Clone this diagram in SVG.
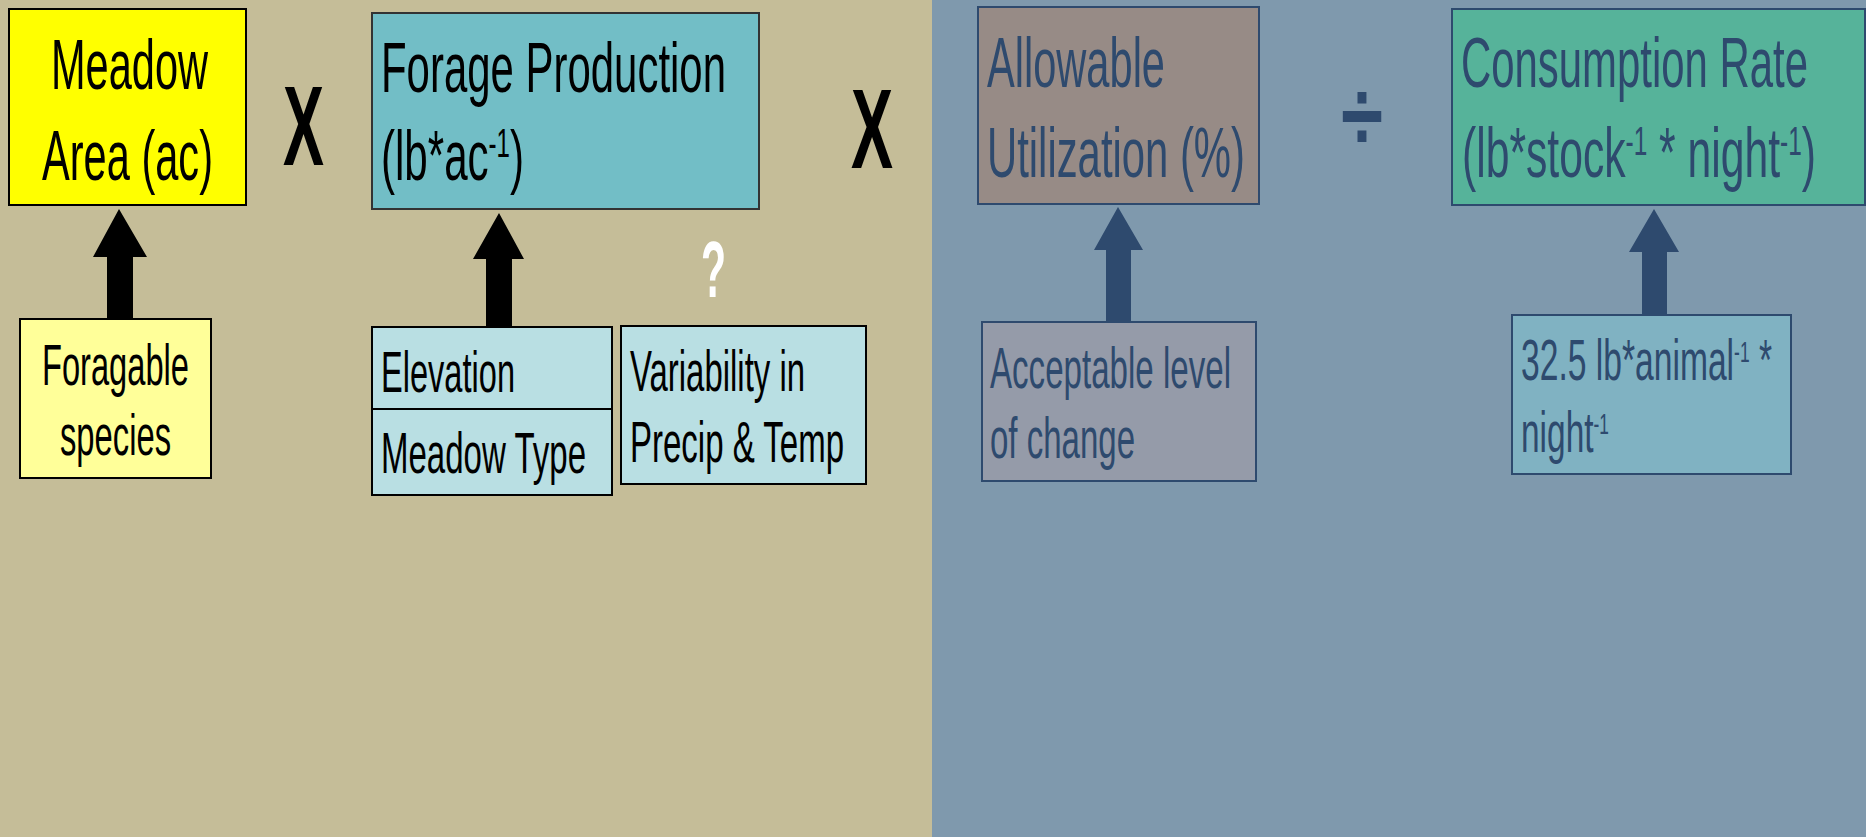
<svg xmlns="http://www.w3.org/2000/svg" width="1866" height="837" viewBox="0 0 1866 837">
<style>
.t{font-family:"Liberation Sans",Arial,sans-serif;}
.big{font-size:70px;}
.mid{font-size:58px;}
.blk{fill:#000;}
.blu{fill:#2E4A6E;}
.bl{stroke:#000;stroke-width:2;}
.bb{stroke:#2E4A6E;stroke-width:2;}
.op{font-size:114px;font-weight:bold;}
</style>
<rect x="0" y="0" width="932" height="837" fill="#C5BD98"/>
<rect x="932" y="0" width="934" height="837" fill="#7F99AD"/>

<g id="connectors">
<polygon points="119,209 147,257 133,257 133,319 107,319 107,257 93,257" fill="#000"/>
<polygon points="499,213 524,259 512,259 512,328 486,328 486,259 473,259" fill="#000"/>
<polygon points="1118,207 1143,250 1131,250 1131,322 1106,322 1106,250 1094,250" fill="#2E4A6E"/>
<polygon points="1654,209 1679,252 1667,252 1667,315 1642,315 1642,252 1629,252" fill="#2E4A6E"/>
</g>

<g id="meadow-area">
<rect x="9" y="9" width="237" height="196" fill="#FFFF00" class="bl"/>
<text class="t big blk" x="51" y="89" textLength="157" lengthAdjust="spacingAndGlyphs">Meadow</text>
<text class="t big blk" x="42" y="180" textLength="171" lengthAdjust="spacingAndGlyphs">Area (ac)</text>
</g>

<g id="op-x1"><text class="t blk op" x="283" y="165" textLength="41" lengthAdjust="spacingAndGlyphs">X</text></g>

<g id="forage-production">
<rect x="372" y="13" width="387" height="196" fill="#72BEC6" stroke="#333" stroke-width="2"/>
<text class="t big blk" x="381" y="92" textLength="345" lengthAdjust="spacingAndGlyphs">Forage Production</text>
<text class="t big blk" x="381" y="180" textLength="143" lengthAdjust="spacingAndGlyphs">(lb*ac<tspan dy="-23" style="font-size:40px">-1</tspan><tspan dy="23">)</tspan></text>
</g>

<g id="op-x2"><text class="t blk op" x="851" y="168" textLength="42" lengthAdjust="spacingAndGlyphs">X</text></g>

<g id="question"><text class="t" style="font-size:80px;font-weight:bold;fill:#fff" x="701" y="297" textLength="25" lengthAdjust="spacingAndGlyphs">?</text></g>

<g id="allowable-utilization">
<rect x="978" y="7" width="281" height="197" fill="#978B86" class="bb"/>
<text class="t big blu" x="987" y="87" textLength="178" lengthAdjust="spacingAndGlyphs">Allowable</text>
<text class="t big blu" x="987" y="177" textLength="258" lengthAdjust="spacingAndGlyphs">Utilization (%)</text>
</g>

<g id="op-div"><text class="t blu" style="font-size:100px;font-weight:bold" x="1341" y="150" textLength="42" lengthAdjust="spacingAndGlyphs">÷</text></g>

<g id="consumption-rate">
<rect x="1452" y="9" width="413" height="196" fill="#56B39A" class="bb"/>
<text class="t big blu" x="1461" y="87" textLength="347" lengthAdjust="spacingAndGlyphs">Consumption Rate</text>
<text class="t big blu" x="1462" y="177" textLength="354" lengthAdjust="spacingAndGlyphs">(lb*stock<tspan dy="-22" style="font-size:40px">-1</tspan><tspan dy="22"> * night</tspan><tspan dy="-22" style="font-size:40px">-1</tspan><tspan dy="22">)</tspan></text>
</g>

<g id="foragable-species">
<rect x="20" y="319" width="191" height="159" fill="#FFFF99" class="bl"/>
<text class="t mid blk" x="42" y="385" textLength="147" lengthAdjust="spacingAndGlyphs">Foragable</text>
<text class="t mid blk" x="60" y="455" textLength="111" lengthAdjust="spacingAndGlyphs">species</text>
</g>

<g id="elevation">
<rect x="372" y="327" width="240" height="82" fill="#B9DFE3" class="bl"/>
<text class="t mid blk" x="381" y="392" textLength="134" lengthAdjust="spacingAndGlyphs">Elevation</text>
</g>

<g id="meadow-type">
<rect x="372" y="409" width="240" height="86" fill="#B9DFE3" class="bl"/>
<text class="t mid blk" x="381" y="473" textLength="205" lengthAdjust="spacingAndGlyphs">Meadow Type</text>
</g>

<g id="variability">
<rect x="621" y="326" width="245" height="158" fill="#B9DFE3" class="bl"/>
<text class="t mid blk" x="630" y="391" textLength="175" lengthAdjust="spacingAndGlyphs">Variability in</text>
<text class="t mid blk" x="630" y="462" textLength="214" lengthAdjust="spacingAndGlyphs">Precip &amp; Temp</text>
</g>

<g id="acceptable-level">
<rect x="982" y="322" width="274" height="159" fill="#959BA9" class="bb"/>
<text class="t mid blu" x="990" y="388" textLength="241" lengthAdjust="spacingAndGlyphs">Acceptable level</text>
<text class="t mid blu" x="990" y="458" textLength="145" lengthAdjust="spacingAndGlyphs">of change</text>
</g>

<g id="consumption-value">
<rect x="1512" y="315" width="279" height="159" fill="#80B2C2" class="bb"/>
<text class="t mid blu" x="1521" y="380" textLength="251" lengthAdjust="spacingAndGlyphs">32.5 lb*animal<tspan dy="-18" style="font-size:30px">-1</tspan><tspan dy="18"> *</tspan></text>
<text class="t mid blu" x="1521" y="452" textLength="88" lengthAdjust="spacingAndGlyphs">night<tspan dy="-18" style="font-size:30px">-1</tspan></text>
</g>
</svg>
